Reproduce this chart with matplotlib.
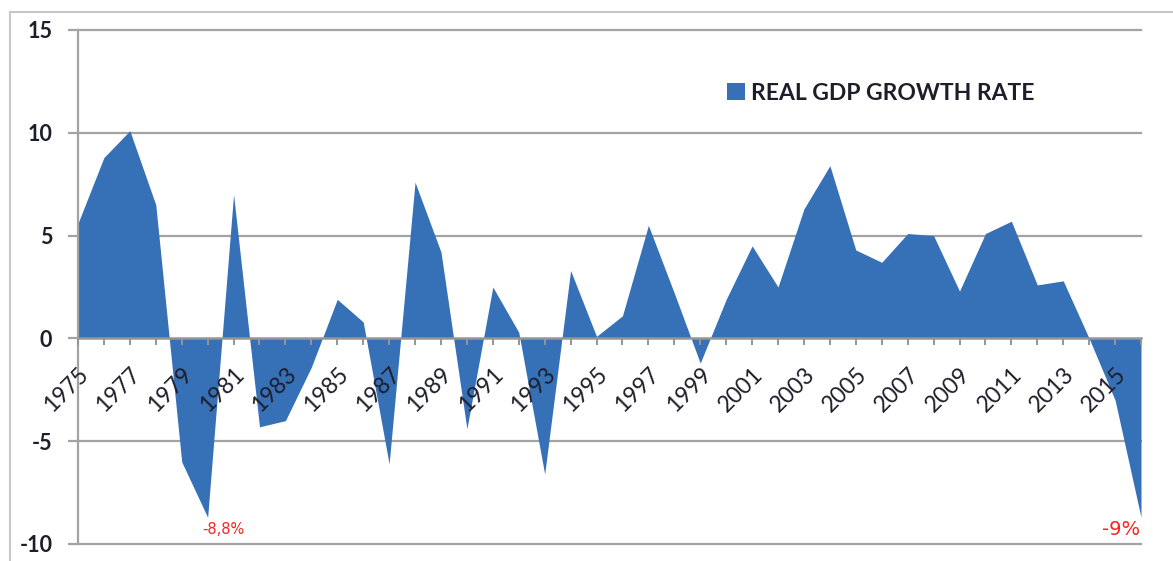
import matplotlib
matplotlib.use("Agg")
import matplotlib.pyplot as plt
import matplotlib.transforms as mtransforms
from matplotlib.lines import Line2D
import numpy as np

years = list(range(1975, 2017))
growth = [5.6, 8.8, 10.1, 6.5, -6.0, -8.7, 7.0, -4.3, -4.0, -1.4,
          1.9, 0.8, -6.1, 7.6, 4.2, -4.4, 2.5, 0.3, -6.6, 3.3,
          0.1, 1.1, 5.5, 2.2, -1.2, 1.9, 4.5, 2.5, 6.3, 8.4,
          4.3, 3.7, 5.1, 5.0, 2.3, 5.1, 5.7, 2.6, 2.8, 0.0,
          -3.0, -8.7]
series_label = "REAL GDP GROWTH RATE"
y_ticks = [-10, -5, 0, 5, 10, 15]
annotations = [(1980, "-8,8%"), (2016, "-9%")]

W, H = 1173, 561
fig = plt.figure(figsize=(W / 100, H / 100), dpi=100)
fig.patch.set_facecolor("white")

# outer screenshot frame
fig.add_artist(Line2D([10 / W, 10 / W], [0, 1 - 12 / H], transform=fig.transFigure,
                      color="#C8C8C8", lw=1.5))
fig.add_artist(Line2D([10 / W, 1], [1 - 12 / H, 1 - 12 / H], transform=fig.transFigure,
                      color="#C8C8C8", lw=1.5))

ax = fig.add_axes([78 / W, 1 - 544 / H, (1141 - 78) / W, (544 - 30) / H])
ax.set_xlim(years[0], years[-1])
ax.set_ylim(-10, 15)
ax.set_axisbelow(False)

fill_color = "#3670B6"
ax.fill_between(years, growth, 0, color=fill_color, lw=0, label=series_label, zorder=2)

grid_c = "#A3A3A3"
for yv in y_ticks:
    if yv != 0:
        ax.axhline(yv, color=grid_c, lw=1.6, zorder=1, clip_on=False)

for s in ["top", "right"]:
    ax.spines[s].set_visible(False)
ax.spines["left"].set_color(grid_c)
ax.spines["left"].set_linewidth(1.6)
ax.spines["bottom"].set_position(("data", 0))
ax.spines["bottom"].set_color("#959595")
ax.spines["bottom"].set_linewidth(1.8)

font_fam = ["Lato", "DejaVu Sans"]
ax.set_yticks(y_ticks)
ax.set_yticklabels([str(v) for v in y_ticks], fontsize=15.5, fontweight="bold",
                   family=font_fam, color="#1E1E2A")
ax.tick_params(axis="y", direction="out", length=7.5, width=1.6, color=grid_c, pad=11)

ax.set_xticks(years)
ax.set_xticklabels([str(y) if (y - 1975) % 2 == 0 else "" for y in years],
                   rotation=45, ha="right", va="top", rotation_mode="anchor",
                   fontsize=16.5, family=font_fam, color="#1E1E2A")
ax.tick_params(axis="x", direction="out", length=5, width=1.4, color="#959595", pad=13)
offset = mtransforms.ScaledTranslation(0 / 72, 0, fig.dpi_scale_trans)
for lab in ax.get_xticklabels():
    lab.set_transform(lab.get_transform() + offset)

leg = ax.legend(loc="center left", bbox_to_anchor=((727 - 78) / (1141 - 78), (544 - 93) / (544 - 30)),
                frameon=False, borderpad=0, borderaxespad=0,
                handlelength=0.78, handleheight=0.78, handletextpad=0.25,
                prop={"family": font_fam, "weight": "bold", "size": 16.5})
for t in leg.get_texts():
    t.set_color("#1E1E2A")

ax.annotate(annotations[0][1], xy=(annotations[0][0], growth[years.index(annotations[0][0])]),
            xytext=(11, -9), textcoords="offset points", ha="center", va="center",
            color="#FF2020", fontsize=10.5, family="DejaVu Sans")
ax.annotate(annotations[1][1], xy=(annotations[1][0], growth[years.index(annotations[1][0])]),
            xytext=(-14, -9), textcoords="offset points", ha="center", va="center",
            color="#FF2020", fontsize=14, family="DejaVu Sans")

fig.savefig("out.png", dpi=100, facecolor="white")
